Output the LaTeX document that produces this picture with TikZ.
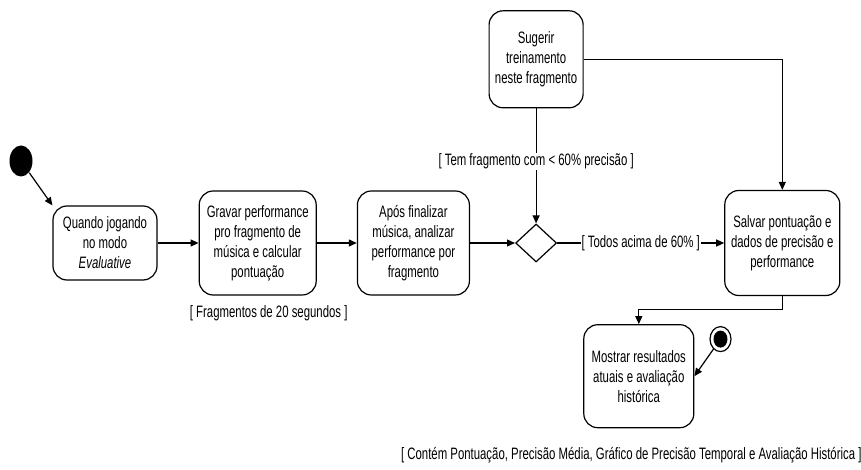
\documentclass[tikz,border=0pt]{standalone}
\usepackage{fontspec}
\setmainfont{Liberation Sans}[FakeStretch=0.69]
\usetikzlibrary{shapes.geometric, arrows.meta, positioning}

\begin{document}
\begin{tikzpicture}[x=1pt, y=1pt, line width=1.2pt,
    font=\fontsize{16.5}{20}\selectfont,
    activity/.style={rectangle, draw, rounded corners=14pt, align=center, inner sep=2pt},
    flow/.style={-{Triangle[length=8pt, width=7pt]}},
    guard/.style={fill=white, inner sep=1pt}]
    \useasboundingbox (0,0) rectangle (861,-470);

    % Nodes
    \node (start) [ellipse, fill, minimum width=23pt, minimum height=31pt, inner sep=0pt] at (21,-161) {};
    \node (jogando) [activity, minimum width=104pt, minimum height=74pt] at (105,-243) {Quando jogando\\no modo\\\textit{Evaluative}};
    \node (gravar) [activity, right=41pt of jogando, minimum width=117pt, minimum height=104pt] {Gravar performance\\pro fragmento de\\música e calcular\\pontuação};
    \node (analisar) [activity, right=40pt of gravar, minimum width=112pt, minimum height=104pt] {Após finalizar\\música, analizar\\performance por\\fragmento};
    \node (decisao) [diamond, draw, right=45pt of analisar, minimum width=41pt, minimum height=38pt, inner sep=0pt] {};
    \node (salvar) [activity, right=167pt of decisao, minimum width=115pt, minimum height=105pt] {Salvar pontuação e\\dados de precisão e\\performance};
    \node (sugerir) [activity, above=115pt of decisao, minimum width=94pt, minimum height=97pt] {Sugerir\\treinamento\\neste fragmento};
    \node (mostrar) [activity, below=28pt of salvar, xshift=-143.5pt, minimum width=110pt, minimum height=103pt] {Mostrar resultados\\atuais e avaliação\\histórica};
    \node (fim) [ellipse, draw, fill=white, right=15pt of mostrar.north east, yshift=-15pt, minimum width=21pt, minimum height=25pt, inner sep=0pt,
        path picture={\fill[black] (path picture bounding box.center) ellipse (7pt and 8.5pt);}] {};

    \node (fragmentos) [below=8pt of gravar, xshift=11pt, inner sep=1pt] {[ Fragmentos de 20 segundos ]};
    \node (contem) [below=17pt of mostrar, xshift=-7.5pt, inner sep=1pt] {[ Contém Pontuação, Precisão Média, Gráfico de Precisão Temporal e Avaliação Histórica ]};

    % Edges
    \draw[flow] (start) -- (jogando.north west);
    \draw[flow] (jogando) -- (gravar);
    \draw[flow] (gravar) -- (analisar);
    \draw[flow] (analisar) -- (decisao);
    \draw[flow] (decisao) -- node[guard] {[ Todos acima de 60\% ]} (salvar);
    \draw[flow] (sugerir) -- node[guard, pos=0.46] {[ Tem fragmento com < 60\% precisão ]} (decisao);
    \draw[flow] (sugerir) -| (salvar);
    \draw[flow] (salvar.south) -- ++(0,-13) -| (mostrar.north);
    \draw[flow] (fim) -- (mostrar.east);
\end{tikzpicture}
\end{document}
